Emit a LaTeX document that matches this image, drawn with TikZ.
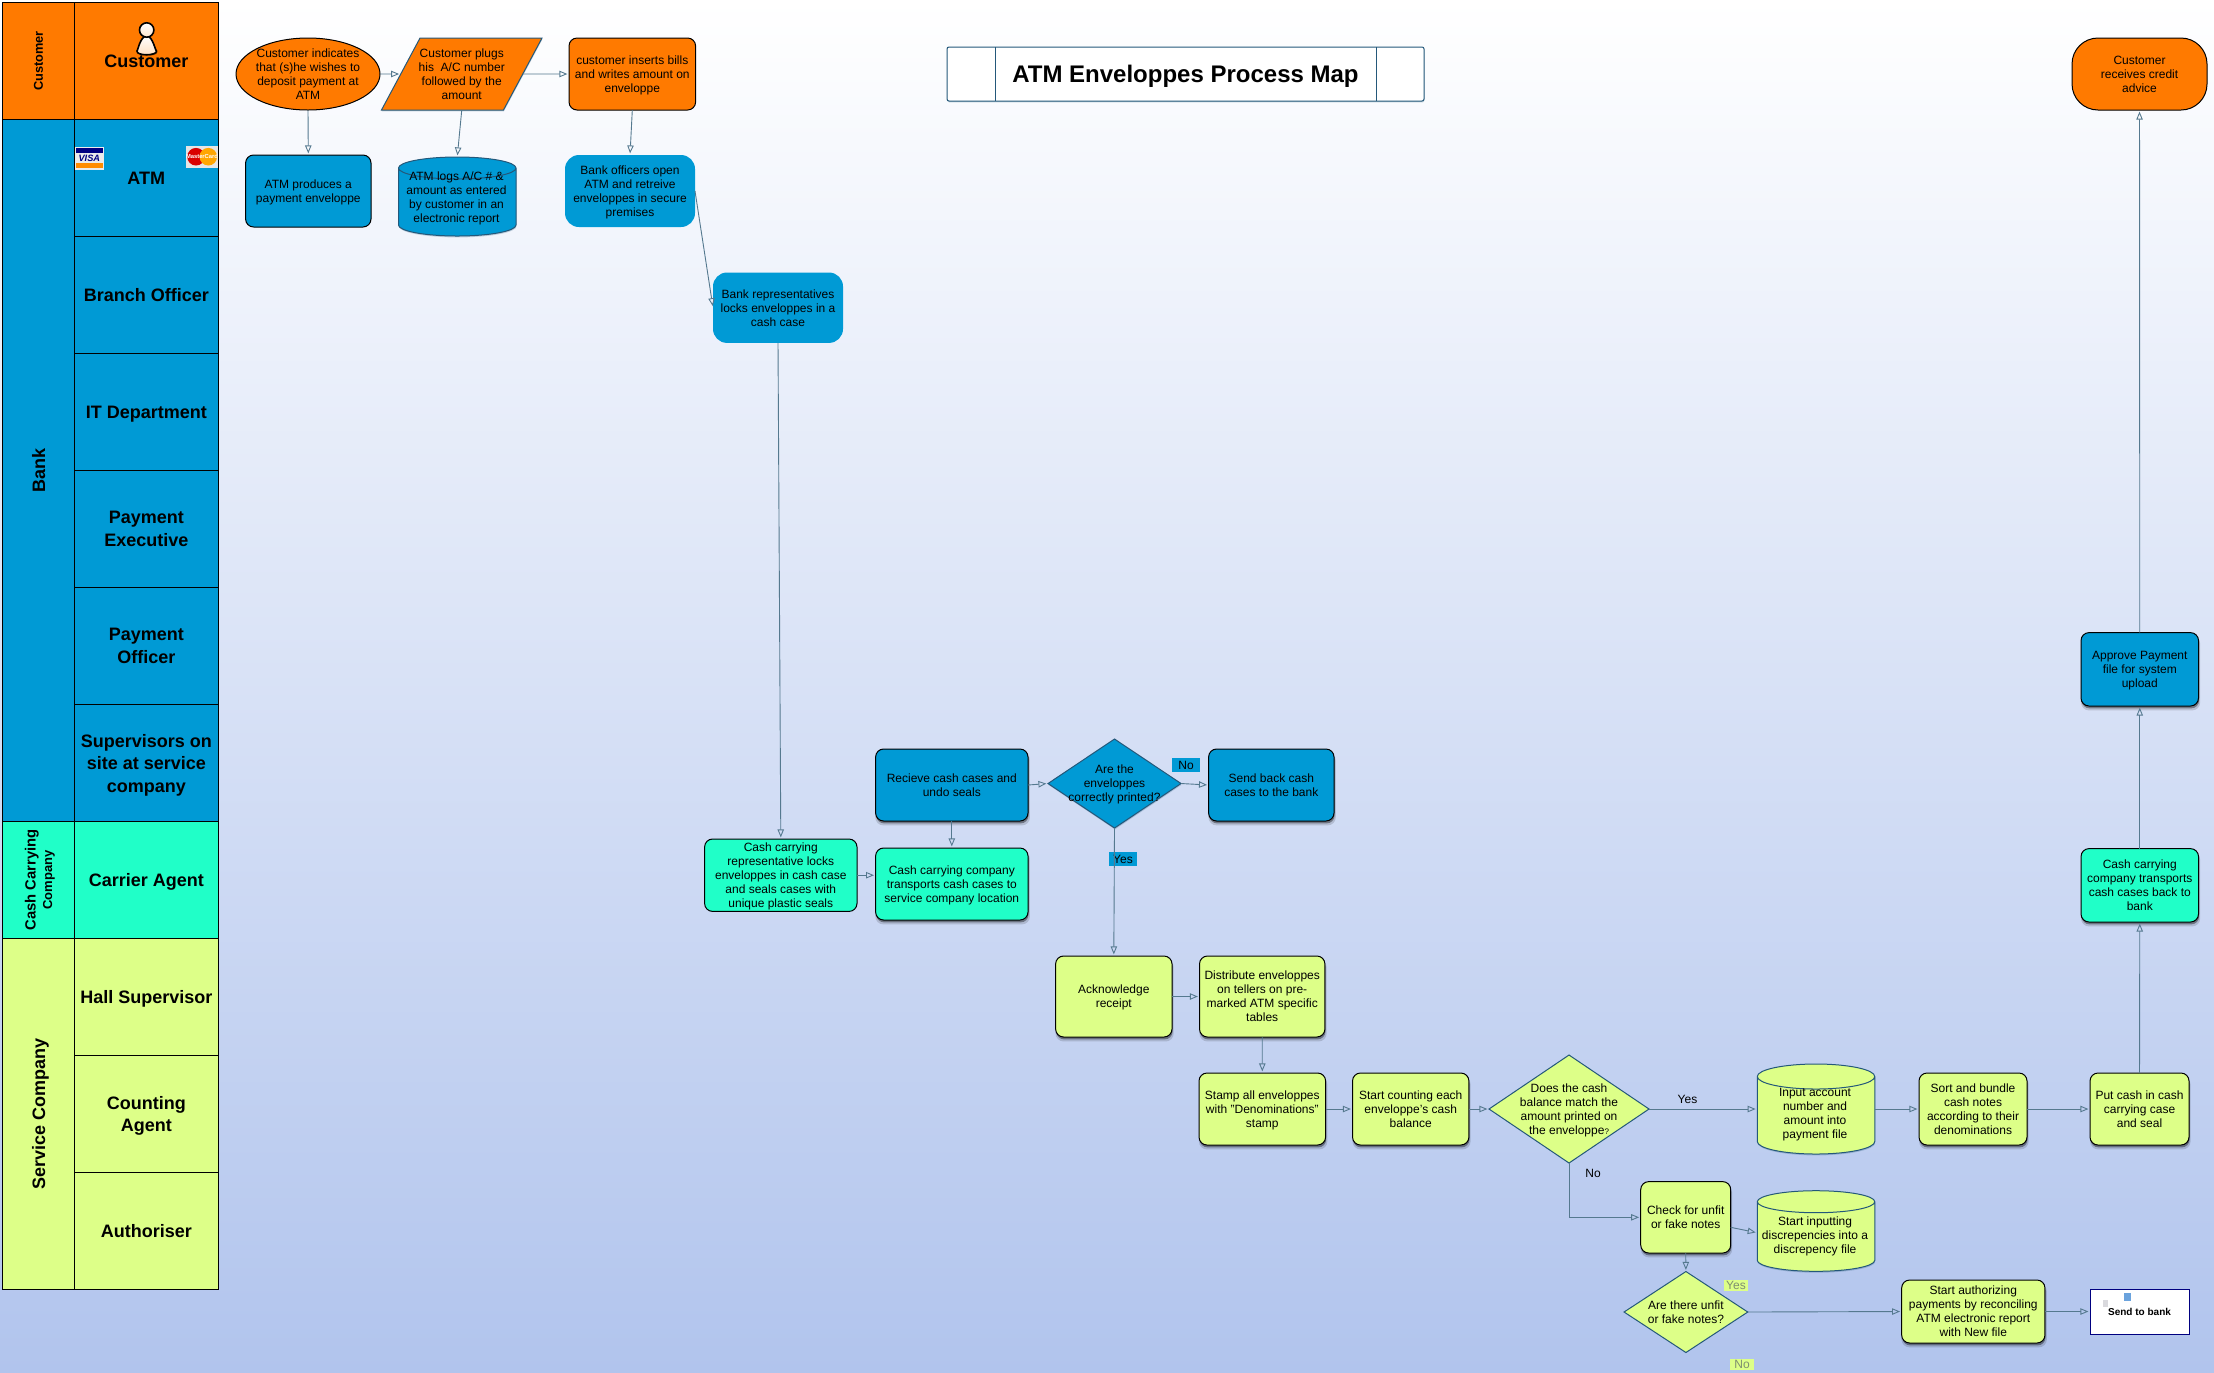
\documentclass[tikz,border=0pt]{standalone}
\usepackage{fontspec}
\setsansfont{Liberation Sans}
\usetikzlibrary{positioning, arrows.meta, calc, shapes.geometric, shadows}
\definecolor{laneOrange}{HTML}{FF7A00}
\definecolor{laneBlue}{HTML}{009AD5}
\definecolor{laneTeal}{HTML}{20FFC8}
\definecolor{laneLime}{HTML}{DDFF88}
\definecolor{lineBlue}{HTML}{55798F}
\definecolor{edgeBlue}{HTML}{24587A}
\definecolor{skyEnd}{HTML}{B1C4ED}
\definecolor{noteGray}{HTML}{7F8F70}
\newcommand{\drum}{\rule{50pt}{0pt}}
\tikzset{
  every node/.style={font=\sffamily\fontsize{6}{7}\selectfont, align=center, inner sep=0pt, outer sep=0pt, text depth=0pt},
  every label/.style={align=center},
  arr/.style={-{Triangle[open, length=4pt, width=3.2pt]}, draw=lineBlue, line width=.45pt, shorten >=.8pt},
  soft/.style={drop shadow={shadow xshift=.4pt, shadow yshift=-1.9pt, fill=black, opacity=.14, shadow scale=1.015},
               drop shadow={shadow xshift=.3pt, shadow yshift=-1.2pt, fill=black, opacity=.38}},
  faint/.style={drop shadow={shadow xshift=.2pt, shadow yshift=-.7pt, fill=edgeBlue, opacity=.25}},
  box/.style={draw=black, line width=.5pt, rounded corners=4pt},
  boxOrange/.style={box, fill=laneOrange},
  boxBlue/.style={box, fill=laneBlue},
  boxTeal/.style={box, fill=laneTeal},
  boxLime/.style={box, fill=laneLime},
  flatBlue/.style={fill=laneBlue, rounded corners=7pt},
  decide/.style={diamond, draw=edgeBlue, line width=.5pt},
  store/.style={cylinder, shape border rotate=90, draw=edgeBlue, line width=.5pt, faint, minimum width=58.75pt, anchor=shape center},
  role/.style={rectangle, draw=black, line width=.5pt, minimum width=72pt, minimum height=58.5pt,
               font=\sffamily\bfseries\fontsize{9}{11.25}\selectfont},
  lane/.style={rectangle, draw=black, line width=.5pt, minimum height=35.8pt, rotate=90,
               font=\sffamily\bfseries\fontsize{9}{11.25}\selectfont},
  tag/.style={minimum width=14pt, minimum height=7pt},
}
\begin{document}
\begin{tikzpicture}[x=.5pt, y=-.5pt]
  \useasboundingbox (0,0) rectangle (2214,1372);
  \shade[top color=white, bottom color=skyEnd] (0,0) rectangle (2214,1372);
  % lanes on the left
  \node[lane, fill=laneOrange, minimum width=58.5pt, font=\sffamily\bfseries\fontsize{6.4}{8}\selectfont] (laneCust) at (38.5,61) {Customer};
  \node[lane, fill=laneBlue, minimum width=351pt] (laneBank) at (38.5,470.5) {Bank};
  \node[lane, fill=laneTeal, minimum width=58.5pt, font=\sffamily\bfseries] (laneCash) at (38.5,880)
    {{\fontsize{7.4}{8.7}\selectfont Cash Carrying}\\[-3.8pt]{\fontsize{6.5}{8}\selectfont Company}};
  \node[lane, fill=laneLime, minimum width=175.5pt] (laneServ) at (38.5,1114) {Service Company};
  \node[role, fill=laneOrange] (roleCust) at (146.3,61) {};
  \node[role, fill=laneBlue, below=0pt of roleCust] (roleAtm) {ATM};
  \node[role, fill=laneBlue, below=0pt of roleAtm] (roleBranch) {Branch Officer};
  \node[role, fill=laneBlue, below=0pt of roleBranch] (roleIt) {IT Department};
  \node[role, fill=laneBlue, below=0pt of roleIt] (roleExec) {Payment\\Executive};
  \node[role, fill=laneBlue, below=0pt of roleExec] (roleOff) {Payment\\Officer};
  \node[role, fill=laneBlue, below=0pt of roleOff] (roleSup) {Supervisors on\\site at service\\company};
  \node[role, fill=laneTeal, below=0pt of roleSup] (roleCarrier) {Carrier Agent};
  \node[role, fill=laneLime, below=0pt of roleCarrier] (roleHall) {Hall Supervisor};
  \node[role, fill=laneLime, below=0pt of roleHall] (roleCount) {Counting\\Agent};
  \node[role, fill=laneLime, below=0pt of roleCount] (roleAuth) {Authoriser};
  % person and cards
  \draw[line width=.8pt, top color=white, bottom color=orange!25, drop shadow={shadow xshift=.5pt, shadow yshift=-.5pt, fill=black!60!laneOrange, opacity=.6}]
    (146.7,35.5) .. controls (140,37) and (138,50) .. (137,51) .. controls (136,56) and (157,56) .. (156.5,51) .. controls (155,50) and (153,37) .. cycle;
  \draw[line width=.8pt, top color=white, bottom color=orange!20] (146.7,30) circle (3.6pt);
  \node[font=\sffamily\bfseries\fontsize{9}{11.25}\selectfont] (custText) at (roleCust) {Customer};
  \fill[black!8] (75,146.7) rectangle (104,170);
  \fill[blue!50!black] (76,147.7) rectangle (103,153.3);
  \fill[orange!90!yellow] (76,163) rectangle (103,168);
  \node[font=\sffamily\bfseries\itshape\fontsize{4.6}{5}\selectfont, text=blue!50!black] (visaText) at (89.3,158.5) {VISA};
  \fill[black!10] (186.3,146) rectangle (218,167.7);
  \fill[red!85!black] (196,156.7) circle (4.4pt);
  \fill[orange!70!yellow] (208.3,156.7) circle (4.4pt);
  \node[font=\sffamily\bfseries\fontsize{2.9}{3}\selectfont, text=white] (mcText) at (202,156.7) {MasterCard};
  % title
  \node[rectangle, draw=edgeBlue, fill=white, line width=.5pt, rounded corners=1pt, faint, minimum width=238.5pt, minimum height=27pt,
        font=\sffamily\bfseries\fontsize{12}{14}\selectfont] (title) at (1185.5,74) {ATM Enveloppes Process Map};
  \draw[edgeBlue, line width=.5pt] ([xshift=24pt]title.north west) -- ([xshift=24pt]title.south west);
  \draw[edgeBlue, line width=.5pt] ([xshift=-24pt]title.north east) -- ([xshift=-24pt]title.south east);
  % customer row
  \node[ellipse, draw=black, fill=laneOrange, line width=.5pt, minimum width=72pt, minimum height=36pt,
        label={center:Customer indicates\\that (s)he wishes to\\deposit payment at\\ATM}] (ask) at (308,74) {};
  \node[trapezium, trapezium left angle=66.4, trapezium right angle=113.6, trapezium stretches=true, draw=edgeBlue, fill=laneOrange,
        line width=.5pt, faint, minimum width=80.25pt, minimum height=36pt,
        label={center:Customer plugs\\his\ \ A/C number\\followed by the\\amount}] (plug) at (461.75,74) {\phantom{x}};
  \node[boxOrange, minimum width=63.3pt, minimum height=36pt] (insert) at (632.3,74) {customer inserts bills\\and writes amount on\\enveloppe};
  \node[boxOrange, rounded corners=13pt, minimum width=67.5pt, minimum height=36pt] (advice) at (2139.5,74) {Customer\\receives credit\\advice};
  % bank
  \node[boxBlue, minimum width=62.7pt, minimum height=36pt] (produce) at (308.3,191) {ATM produces a\\payment enveloppe};
  \node[store, fill=laneBlue, minimum height=39.5pt, aspect=.22] (logs) at (457.25,196.5) {\drum};
  \node (logsText) at (456.5,196.8) {ATM logs A/C \# \&\\amount as entered\\by customer in an\\electronic report};
  \node[flatBlue, minimum width=65pt, minimum height=36pt] (open) at (630,191) {Bank officers open\\ATM and retreive\\enveloppes in secure\\premises};
  \node[flatBlue, minimum width=65pt, minimum height=35.2pt] (lock) at (778,307.7) {Bank representatives\\locks enveloppes in a\\cash case};
  \node[boxBlue, soft, minimum width=76.2pt, minimum height=36pt] (receive) at (951.8,785) {Recieve cash cases and\\undo seals};
  \node[decide, fill=laneBlue, faint, minimum width=66.5pt, minimum height=44.5pt,
        label={center:Are the\\enveloppes\\correctly printed?}] (printed) at (1114.5,783.5) {};
  \node[boxBlue, soft, minimum width=62.7pt, minimum height=36pt] (sendback) at (1271.3,785) {Send back cash\\cases to the bank};
  \node[tag, fill=laneBlue] (tagNo) at (1186,765) {No};
  \node[tag, fill=laneBlue] (tagYes) at (1123,859) {Yes};
  \node[boxBlue, soft, minimum width=58.75pt, minimum height=36.7pt] (approve) at (2139.75,669.3) {Approve Payment\\file for system\\upload};
  % carrier
  \node[boxTeal, minimum width=76.2pt, minimum height=36.2pt] (seal) at (780.8,875.2) {Cash carrying\\representative locks\\enveloppes in cash case\\and seals cases with\\unique plastic seals};
  \node[boxTeal, soft, minimum width=76.2pt, minimum height=36pt] (carry) at (951.8,884) {Cash carrying company\\transports cash cases to\\service company location};
  \node[boxTeal, soft, minimum width=58.75pt, minimum height=36.7pt] (carryback) at (2139.75,885.3) {Cash carrying\\company transports\\cash cases back to\\bank};
  % service company
  \node[boxLime, soft, minimum width=58.2pt, minimum height=40.5pt] (ack) at (1113.8,996.5) {Acknowledge\\receipt};
  \node[boxLime, soft, minimum width=62.7pt, minimum height=40.5pt] (distribute) at (1262.2,996.5) {Distribute enveloppes\\on tellers on pre-\\marked ATM specific\\tables};
  \node[boxLime, soft, minimum width=63.3pt, minimum height=36pt] (stamp) at (1262.3,1109) {Stamp all enveloppes\\with "Denominations"\\stamp};
  \node[boxLime, soft, minimum width=58.2pt, minimum height=36pt] (count) at (1410.7,1109) {Start counting each\\enveloppe's cash\\balance};
  \node[decide, fill=laneLime, minimum width=80pt, minimum height=54pt,
        label={center:Does the cash\\balance match the\\amount printed on\\the enveloppe{\fontsize{4}{7}\selectfont ?}}] (match) at (1569,1109) {};
  \node[store, fill=laneLime, minimum height=45pt, aspect=.25] (input) at (1816,1109) {\drum};
  \node (inputText) at (1815,1113.7) {Input account\\number and\\amount into\\payment file};
  \node[boxLime, soft, minimum width=54pt, minimum height=36pt] (sort) at (1973,1109) {Sort and bundle\\cash notes\\according to their\\denominations};
  \node[boxLime, soft, minimum width=49.5pt, minimum height=36pt] (putcash) at (2139.5,1109) {Put cash in cash\\carrying case\\and seal};
  \node[boxLime, soft, minimum width=45pt, minimum height=35.7pt] (check) at (1685.7,1217.3) {Check for unfit\\or fake notes};
  \node[store, fill=laneLime, minimum height=40.3pt, aspect=.22] (discrep) at (1816,1231) {\drum};
  \node (discrepText) at (1815,1234.7) {Start inputting\\discrepencies into a\\discrepency file};
  \node[decide, fill=laneLime, minimum width=61.85pt, minimum height=40.5pt,
        label={center:Are there unfit\\or fake notes?}] (unfit) at (1685.9,1312) {};
  \node[boxLime, soft, minimum width=71.65pt, minimum height=31.5pt] (authorize) at (1973.3,1311.5) {Start authorizing\\payments by reconciling\\ATM electronic report\\with New file};
  \node[rectangle, draw=blue!50!black, fill=white, line width=.45pt, minimum width=49.5pt, minimum height=22.5pt,
        font=\sffamily\bfseries\fontsize{5}{6}\selectfont] (bank) at (2139.5,1311.5) {Send to bank};
  \fill[cyan!60!blue!60] (2124,1293) rectangle (2130.5,1301);
  \fill[blue!10!black!15] (2102.5,1300) rectangle (2107.5,1307);
  \node (lblYes) at (1687.5,1099) {Yes};
  \node (lblNo) at (1593,1173.7) {No};
  \node[tag, fill=laneLime, minimum width=11.9pt, minimum height=5.6pt, text=noteGray] (tagYes2) at (1736,1285.5) {Yes};
  \node[tag, fill=laneLime, minimum width=12pt, minimum height=5.6pt, text=noteGray] (tagNo2) at (1742,1364.5) {No};
  % connectors
  \draw[arr] (ask.east) -- (plug.west);
  \draw[arr] (plug.east) -- (insert.west);
  \draw[arr] (ask.south) -- (produce.north);
  \draw[arr] (plug.south) -- (logs.north);
  \draw[arr] (insert.south) -- (open.north);
  \draw[arr] (open.east) -- (lock.west);
  \draw[arr] (lock.south) -- (seal.north);
  \draw[arr] (seal.east) -- (seal.east -| carry.west);
  \draw[arr] (receive.south) -- (carry.north);
  \draw[arr] (receive.east) -- (printed.west);
  \draw[arr] (printed.east) -- (sendback.west);
  \draw[arr] (printed.south) -- (ack.north);
  \draw[arr] (ack.east) -- (distribute.west);
  \draw[arr] (distribute.south) -- (stamp.north);
  \draw[arr] (stamp.east) -- (count.west);
  \draw[arr] (count.east) -- (match.west);
  \draw[arr] (match.east) -- (match.east -| input.west);
  \draw[arr] (input.east |- sort.west) -- (sort.west);
  \draw[arr] (sort.east) -- (putcash.west);
  \draw[arr] (match.south) |- (check.west);
  \draw[arr] ([yshift=-5pt]check.east) -- ([yshift=2pt]discrep.west);
  \draw[arr] (check.south) -- (unfit.north);
  \draw[arr] (unfit.east) -- (authorize.west);
  \draw[arr] (authorize.east) -- (bank.west);
  \draw[arr] (putcash.north) -- (carryback.south);
  \draw[arr] (carryback.north) -- (approve.south);
  \draw[arr] (approve.north) -- (advice.south);
\end{tikzpicture}
\end{document}
